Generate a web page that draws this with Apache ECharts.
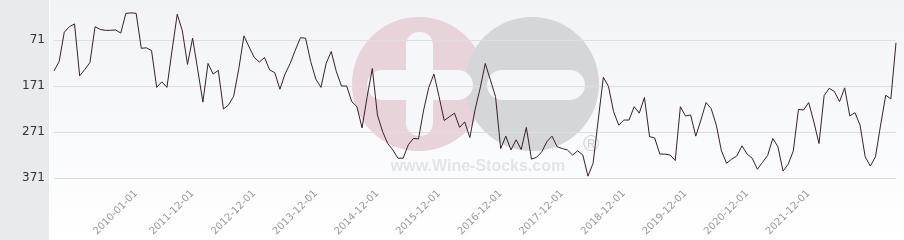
<!DOCTYPE html>
<html>
<head>
<meta charset="utf-8">
<script src="https://cdn.jsdelivr.net/npm/echarts@6/dist/echarts.min.js"></script>
<style>
html,body{margin:0;padding:0;background:#fff;}
#chart{width:904px;height:240px;}
</style>
</head>
<body>
<div id="chart"></div>
<script>
// ---- data ----
var firstMonths = ['2008-09-01','2008-10-01','2008-11-01','2008-12-01','2009-01-01','2009-02-01','2009-03-01','2009-04-01','2009-05-01','2009-06-01','2009-07-01','2009-08-01','2009-09-01','2009-10-01','2009-11-01','2009-12-01','2010-01-01','2010-02-01','2010-03-01','2010-04-01','2010-05-01','2010-06-01','2010-07-01','2010-08-01','2010-09-01','2010-10-01','2010-11-01'];
var monthlyStart = [2011, 12];   // monthly categories from 2011-12-01 onward
var monthlyCount = 138;

var rankValues = [
  138,118,54,42,36,149,135,120,42,48,50,50,49,56,13,12,13,89,88,94,
  174,162,174,93,15,51,124,67,136,206,122,145,137,
  221,212,193,133,62,86,109,119,109,136,142,178,145,122,93,66,67,118,156,174,
  122,96,140,171,171,205,216,262,194,133,234,270,296,
  310,328,328,299,285,286,223,174,145,194,246,238,230,261,249,283,223,176,122,158,
  194,307,280,310,288,309,261,330,326,314,292,280,303,
  307,310,321,312,321,367,339,245,152,172,227,256,245,245,216,230,196,281,284,319,
  319,321,333,216,236,234,280,245,207,220,256,312,339,
  330,323,301,319,328,352,337,322,285,303,356,341,312,222,223,207,249,296,192,176,
  183,205,175,236,229,256,325,345,325,256,191,199,77
];

var xTickLabels = ['2010-01-01','2011-12-01','2012-12-01','2013-12-01','2014-12-01','2015-12-01','2016-12-01','2017-12-01','2018-12-01','2019-12-01','2020-12-01','2021-12-01'];
var yTickValues = [71,171,271,371];
var yRange = [-16, 371];

// build categories
var categories = firstMonths.slice();
(function(){
  var y = monthlyStart[0], m = monthlyStart[1];
  for (var i = 0; i < monthlyCount && categories.length < rankValues.length; i++) {
    categories.push(y + '-' + (m < 10 ? '0' + m : m) + '-01');
    m++; if (m > 12) { m = 1; y++; }
  }
})();

var chart = echarts.init(document.getElementById('chart'), null, {renderer:'canvas'});
var labelSet = {};
xTickLabels.forEach(function(l){ labelSet[l] = true; });

chart.setOption({
  animation: false,
  backgroundColor: '#ffffff',
  graphic: [
    {type:'rect', z:-20, silent:true, shape:{x:0,y:0,width:49,height:240}, style:{fill:'#e8ebee'}},
    {type:'rect', z:-20, silent:true, shape:{x:50,y:0,width:854,height:240},
      style:{fill:new echarts.graphic.LinearGradient(0,0,0,1,[{offset:0,color:'#f1f3f7'},{offset:1,color:'#ffffff'}])}},
    {type:'circle', z:-10, silent:true, shape:{cx:419,cy:84,r:67}, style:{fill:'#e8d3db'}},
    {type:'circle', z:-9, silent:true, shape:{cx:532,cy:84,r:67}, style:{fill:'#d5d6d9'}},
    {type:'rect', z:-8, silent:true, shape:{x:406,y:32,width:27,height:104,r:13}, style:{fill:'#f6f7fa'}},
    {type:'rect', z:-8, silent:true, shape:{x:367,y:70,width:106,height:30,r:15}, style:{fill:'#f6f7fa'}},
    {type:'rect', z:-8, silent:true, shape:{x:487,y:70,width:98,height:30,r:15}, style:{fill:'#f6f7fa'}},
    {type:'text', z:-8, silent:true, style:{x:478,y:167,text:'www.Wine-Stocks.com',fill:'#e3e4e7',
      font:'bold 16px "Liberation Sans"',textAlign:'center',textVerticalAlign:'middle'}},
    {type:'text', z:-8, silent:true, style:{x:591,y:145,text:'\u00AE',fill:'#d3d4d7',
      font:'22px "Liberation Sans"',textAlign:'center',textVerticalAlign:'middle'}}
  ],
  grid: {left:54, right:8, top:0, bottom:62, containLabel:false},
  xAxis: {
    type:'category',
    data: categories,
    boundaryGap:false,
    axisLine:{show:false},
    axisTick:{show:false},
    splitLine:{show:false},
    axisLabel:{
      rotate:45,
      margin:14,
      color:'#999999',
      fontSize:10,
      fontFamily:'DejaVu Sans',
      interval:function(idx, val){ return !!labelSet[val]; }
    }
  },
  yAxis: {
    type:'value',
    inverse:true,
    min: yRange[0],
    max: yRange[1],
    axisLine:{show:false},
    axisTick:{show:false, customValues: yTickValues},
    splitLine:{show:true, lineStyle:{color:'#dedede', width:1}},
    axisLabel:{
      margin:9,
      color:'#333333',
      fontSize:12,
      fontFamily:'DejaVu Sans',
      customValues: yTickValues
    }
  },
  series: [{
    type:'line',
    data: rankValues,
    symbol:'none',
    lineStyle:{color:'#3a1f2b', width:1},
    z:5
  }]
});
</script>
</body>
</html>
